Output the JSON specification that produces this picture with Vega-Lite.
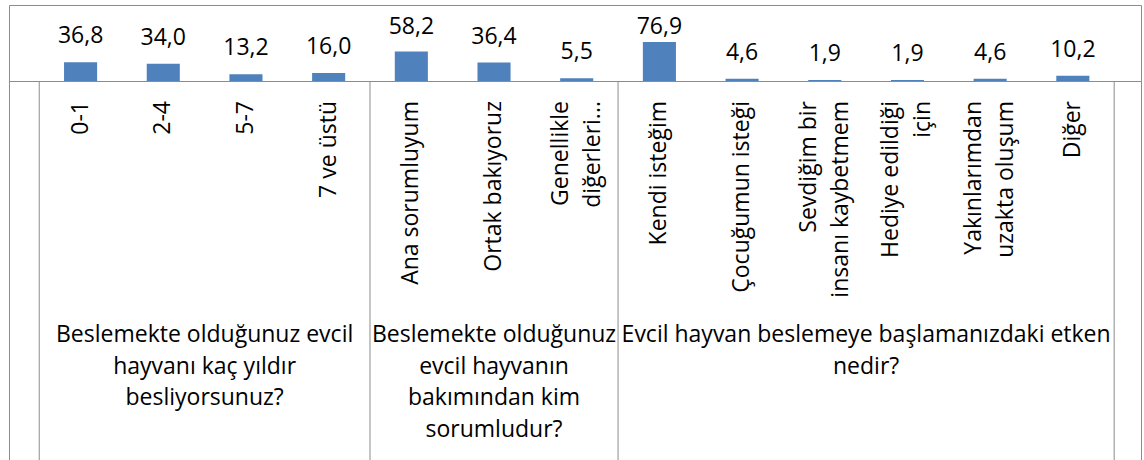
{
  "$schema": "https://vega.github.io/schema/vega-lite/v6.json",
  "padding": {"left": 8, "top": 4, "right": 3, "bottom": 0},
  "spacing": 0,
  "bounds": "flush",
  "config": {
    "view": {"stroke": "#8c8c8c", "strokeWidth": 1},
    "font": "Open Sans",
    "text": {"fontSize": 23, "color": "#000000"},
    "locale": {"number": {"decimal": ",", "thousands": ".", "grouping": [3], "currency": ["", " ₺"]}}
  },
  "datasets": {
    "main": [
      {"cat": "0-1", "value": 36.8, "group": 1},
      {"cat": "2-4", "value": 34.0, "group": 1},
      {"cat": "5-7", "value": 13.2, "group": 1},
      {"cat": "7 ve üstü", "value": 16.0, "group": 1},
      {"cat": "Ana sorumluyum", "value": 58.2, "group": 2},
      {"cat": "Ortak bakıyoruz", "value": 36.4, "group": 2},
      {"cat": "Genellikle|diğerleri...", "value": 5.5, "group": 2},
      {"cat": "Kendi isteğim", "value": 76.9, "group": 3},
      {"cat": "Çocuğumun isteği", "value": 4.6, "group": 3},
      {"cat": "Sevdiğim bir|insanı kaybetmem", "value": 1.9, "group": 3},
      {"cat": "Hediye edildiği|için", "value": 1.9, "group": 3},
      {"cat": "Yakınlarımdan|uzakta oluşum", "value": 4.6, "group": 3},
      {"cat": "Diğer", "value": 10.2, "group": 3}
    ],
    "questions": [
      {"q": "Beslemekte olduğunuz evcil|hayvanı kaç yıldır|besliyorsunuz?", "anchor": "5-7", "group": 1},
      {"q": "Beslemekte olduğunuz|evcil hayvanın|bakımından kim|sorumludur?", "anchor": "Ortak bakıyoruz", "group": 2},
      {"q": "Evcil hayvan beslemeye başlamanızdaki etken|nedir?", "anchor": "Hediye edildiği|için", "group": 3}
    ],
    "groupStarts": [
      {"cat": "0-1"},
      {"cat": "Ana sorumluyum"},
      {"cat": "Kendi isteğim"}
    ],
    "groupEnds": [
      {"cat": "Diğer"}
    ]
  },
  "vconcat": [
    {
      "width": 1132,
      "height": 76,
      "data": {"name": "main"},
      "encoding": {
        "x": {
          "field": "cat", "type": "nominal", "sort": null, "axis": null,
          "scale": {"paddingInner": 0, "paddingOuter": 0.345, "align": 0.53}
        }
      },
      "layer": [
        {
          "mark": {"type": "bar", "color": "#4F81BD", "width": {"band": 0.4}},
          "encoding": {
            "y": {"field": "value", "type": "quantitative", "axis": null, "scale": {"domain": [0, 150]}}
          }
        },
        {
          "mark": {"type": "text", "baseline": "alphabetic", "align": "center", "dy": -19},
          "encoding": {
            "y": {
              "field": "value", "type": "quantitative", "axis": null,
              "scale": {"domain": [0, 55], "range": [76, 48.13], "clamp": true}
            },
            "text": {"field": "value", "type": "quantitative", "format": ".1f"}
          }
        }
      ],
      "resolve": {"scale": {"y": "independent"}}
    },
    {
      "width": 1132,
      "height": 380,
      "layer": [
        {
          "data": {"name": "groupStarts"},
          "mark": {"type": "rule", "color": "#8c8c8c", "strokeWidth": 1},
          "encoding": {
            "x": {"field": "cat", "type": "nominal", "bandPosition": 0}
          }
        },
        {
          "data": {"name": "groupEnds"},
          "mark": {"type": "rule", "color": "#8c8c8c", "strokeWidth": 1},
          "encoding": {
            "x": {"field": "cat", "type": "nominal", "bandPosition": 1}
          }
        },
        {
          "data": {"name": "main"},
          "transform": [{"filter": "indexof(datum.cat, '|') < 0"}],
          "mark": {"type": "text", "angle": 270, "align": "right", "baseline": "middle", "dx": -20},
          "encoding": {
            "x": {"field": "cat", "type": "nominal"},
            "y": {"datum": "labels", "type": "nominal", "bandPosition": 0},
            "text": {"field": "cat", "type": "nominal"}
          }
        },
        {
          "data": {"name": "main"},
          "transform": [{"filter": "indexof(datum.cat, '|') >= 0"}],
          "mark": {"type": "text", "angle": 270, "align": "right", "baseline": "middle", "dx": -20, "dy": -16, "lineBreak": "|", "lineHeight": 32},
          "encoding": {
            "x": {"field": "cat", "type": "nominal"},
            "y": {"datum": "labels", "type": "nominal", "bandPosition": 0},
            "text": {"field": "cat", "type": "nominal"}
          }
        },
        {
          "data": {"name": "questions"},
          "transform": [{"filter": "datum.group != 2"}],
          "mark": {"type": "text", "align": "center", "baseline": "top", "lineBreak": "|", "lineHeight": 31.5},
          "encoding": {
            "x": {"field": "anchor", "type": "nominal", "bandPosition": 0},
            "y": {"datum": "question", "type": "nominal", "bandPosition": 0.28},
            "text": {"field": "q", "type": "nominal"}
          }
        },
        {
          "data": {"name": "questions"},
          "transform": [{"filter": "datum.group == 2"}],
          "mark": {"type": "text", "align": "center", "baseline": "top", "lineBreak": "|", "lineHeight": 31.5},
          "encoding": {
            "x": {"field": "anchor", "type": "nominal", "bandPosition": 0.5},
            "y": {"datum": "question", "type": "nominal", "bandPosition": 0.28},
            "text": {"field": "q", "type": "nominal"}
          }
        }
      ],
      "encoding": {
        "x": {
          "field": "cat", "type": "nominal", "axis": null,
          "scale": {
            "domain": ["0-1", "2-4", "5-7", "7 ve üstü", "Ana sorumluyum", "Ortak bakıyoruz", "Genellikle|diğerleri...", "Kendi isteğim", "Çocuğumun isteği", "Sevdiğim bir|insanı kaybetmem", "Hediye edildiği|için", "Yakınlarımdan|uzakta oluşum", "Diğer"],
            "paddingInner": 0, "paddingOuter": 0.345, "align": 0.53
          }
        },
        "y": {
          "type": "nominal", "axis": null,
          "scale": {"type": "band", "domain": ["labels", "question"], "paddingInner": 0, "paddingOuter": 0}
        }
      }
    }
  ]
}
